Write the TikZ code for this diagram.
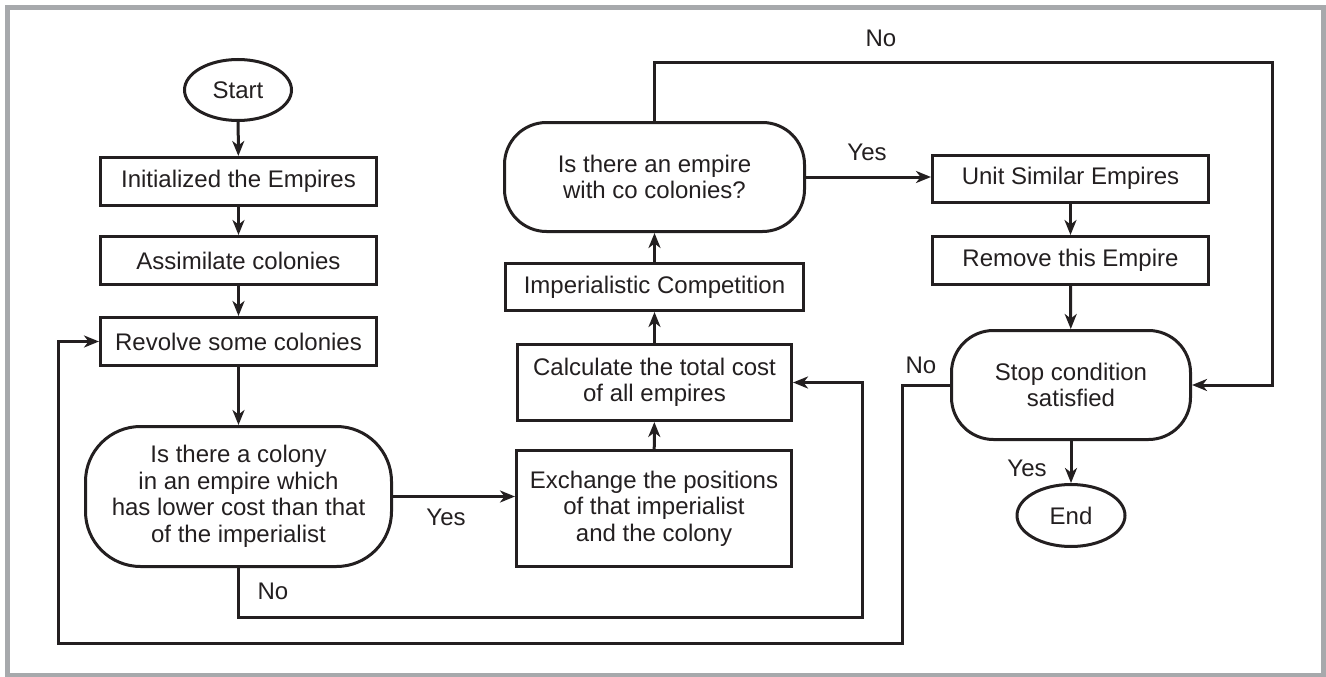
\documentclass[tikz,border=0pt]{standalone}
\usepackage{fontspec}
\setmainfont{Liberation Sans}
\usetikzlibrary{arrows.meta,shapes.geometric}
\definecolor{ink}{HTML}{231F20}
\definecolor{framegray}{HTML}{A7A9AC}
\begin{document}
\begin{tikzpicture}[x=1pt,y=-1pt,
  every node/.style={font=\fontsize{24}{26.5}\selectfont, text=ink},
  box/.style={draw=ink, line width=3pt, rectangle, align=center, inner sep=0pt},
  dec/.style={draw=ink, line width=3pt, rectangle, rounded corners=#1, align=center, inner sep=0pt},
  term/.style={draw=ink, line width=3pt, ellipse, inner sep=0pt},
  conn/.style={draw=ink, line width=3pt, -{Stealth[length=15pt,width=12pt,inset=4.5pt]}},
  lbl/.style={inner sep=0pt}]
\useasboundingbox (0,0) rectangle (1326,677);
\draw[framegray, line width=5pt] (7,8) rectangle (1323.5,675);

\node[term, minimum width=107pt, minimum height=61pt] (start) at (238,90) {Start};
\node[box, minimum width=276pt, minimum height=48pt] (init) at (238.5,181.5) {Initialized the Empires};
\node[box, minimum width=276pt, minimum height=48pt] (assim) at (238.5,260.5) {Assimilate colonies};
\node[box, minimum width=276pt, minimum height=48pt] (revolve) at (238.5,341.5) {Revolve some colonies};
\node[dec=55pt, minimum width=306pt, minimum height=140pt] (d1) at (238.5,496.5) {Is there a colony\\in an empire which\\has lower cost than that\\of the imperialist};
\node[box, minimum width=275pt, minimum height=116pt] (exch) at (654,508.5) {Exchange the positions\\of that imperialist\\and the colony};
\node[box, minimum width=274pt, minimum height=76pt] (calc) at (654.5,382.5) {Calculate the total cost\\of all empires};
\node[box, minimum width=298pt, minimum height=47pt] (imp) at (654.5,287) {Imperialistic Competition};
\node[dec=42pt, minimum width=300pt, minimum height=109pt] (d2) at (654.5,177) {Is there an empire\\with co colonies?};
\node[box, minimum width=276pt, minimum height=47pt] (unit) at (1070.5,178.5) {Unit Similar Empires};
\node[box, minimum width=276pt, minimum height=48pt] (remove) at (1070.5,260.5) {Remove this Empire};
\node[dec=42pt, minimum width=239pt, minimum height=109pt] (stop) at (1071,385) {Stop condition\\satisfied};
\node[term, minimum width=108pt, minimum height=62pt] (end) at (1071,515.5) {End};

\coordinate (nobot) at (238.5,617);
\coordinate (noright) at (862,617);
\coordinate (lp1) at (902,643);
\coordinate (lp2) at (58,643);
\coordinate (ntop) at (1272,63);

\draw[conn] (start) -- (init);
\draw[conn] (init) -- (assim);
\draw[conn] (assim) -- (revolve);
\draw[conn] (revolve) -- (d1);
\draw[conn] (d1.east) -- (d1.east -| exch.west);
\draw[conn] (exch) -- (calc);
\draw[conn] (calc) -- (imp);
\draw[conn] (imp) -- (d2);
\draw[conn] (d2.east) -- (d2.east -| unit.west);
\draw[conn] (unit) -- (remove);
\draw[conn] (remove) -- (stop);
\draw[conn] (stop) -- (end);
\draw[conn] (d1.south) -- (nobot) -- (noright) |- (calc.east);
\draw[conn] (stop.west) -| (lp1) -- (lp2) |- (revolve.west);
\draw[conn] (d2.north) |- (ntop) |- (stop.east);

\node[lbl] (yes1) at (446,517) {Yes};
\node[lbl] (no1) at (273,591) {No};
\node[lbl] (yes2) at (867,152) {Yes};
\node[lbl] (no2) at (881,38) {No};
\node[lbl] (no3) at (921,365) {No};
\node[lbl] (yes3) at (1027,468) {Yes};
\end{tikzpicture}
\end{document}
